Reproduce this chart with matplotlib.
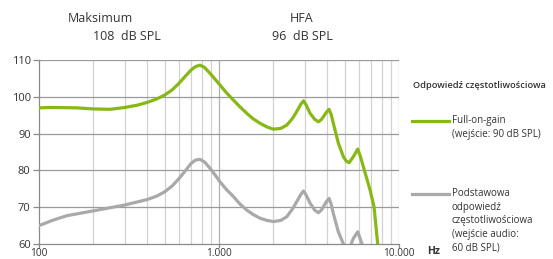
import matplotlib
matplotlib.use("Agg")
import matplotlib.pyplot as plt
from matplotlib.ticker import FixedLocator, NullFormatter

plt.rcParams["font.family"] = ["Open Sans", "DejaVu Sans"]

# dane
freq_full = [100, 115, 162, 200, 248, 300, 350, 400, 450, 500, 550, 600, 650,
             700, 740, 784, 830, 891, 950, 1013, 1100, 1202, 1300, 1427, 1550,
             1691, 1850, 2006, 2200, 2378, 2550, 2703, 2850, 2946, 3050, 3206,
             3400, 3566, 3700, 3802, 3950, 4086, 4200, 4316, 4604, 4910, 5100,
             5277, 5574, 5899, 6100, 6339, 6904, 7267, 7616, 7800]
db_full = [97.0, 97.1, 97.0, 96.7, 96.6, 97.1, 97.7, 98.5, 99.4, 100.5, 101.9,
           103.7, 105.6, 107.3, 108.2, 108.6, 108.0, 106.4, 104.8, 103.2, 101.1,
           99.1, 97.4, 95.5, 94.0, 92.8, 91.8, 91.2, 91.4, 92.3, 94.0, 96.0,
           98.0, 98.9, 97.8, 95.5, 93.9, 93.2, 93.8, 94.6, 95.8, 96.6, 95.2,
           92.8, 87.4, 83.7, 82.5, 82.1, 83.7, 85.8, 83.8, 81.0, 74.7, 70.1,
           60.0, 55.0]

freq_base = [100, 120, 143, 200, 300, 400, 450, 500, 550, 600, 650, 700, 740,
             784, 830, 891, 950, 1013, 1100, 1202, 1300, 1427, 1550, 1691, 1850,
             2006, 2200, 2378, 2550, 2703, 2850, 2946, 3050, 3206, 3400, 3566,
             3700, 3802, 3950, 4086, 4200, 4316, 4604, 4910, 5277, 5574, 5899,
             6233, 6500]
db_base = [65.0, 66.5, 67.7, 69.0, 70.6, 72.1, 73.0, 74.2, 75.8, 77.8, 79.9,
           81.9, 82.8, 83.0, 82.3, 80.6, 78.8, 76.9, 74.8, 72.9, 71.0, 69.2,
           68.0, 67.0, 66.4, 66.1, 66.4, 67.4, 69.4, 71.5, 73.5, 74.4, 73.3,
           71.1, 69.2, 68.5, 69.2, 70.1, 71.5, 72.4, 70.8, 68.3, 63.3, 60.0,
           58.5, 61.5, 63.3, 60.0, 56.0]

y_ticks = [60, 70, 80, 90, 100, 110]
x_ticks = [100, 1000, 10000]
x_labels = ["100", "1.000", "10.000"]
minor_x = [200, 300, 400, 500, 600, 700, 800, 900,
           2000, 3000, 4000, 5000, 6000, 7000, 8000, 9000]

green = "#88b816"
grey = "#a9a9a9"
text_col = "#333333"

fig = plt.figure(figsize=(5.53, 2.59), dpi=100)
W, H = 553, 259
ax = fig.add_axes([39 / W, 1 - 244 / H, 360 / W, 184 / H])

ax.set_xscale("log")
ax.set_xlim(100, 10000)
ax.set_ylim(60, 110)

for f in minor_x:
    ax.axvline(f, color="#d2d2d2", linewidth=0.9, zorder=1)
ax.axvline(1000, color="#b0b0b0", linewidth=0.9, zorder=1)
ax.axvline(10000, color="#b0b0b0", linewidth=0.9, zorder=1)
for v in y_ticks[1:]:
    ax.axhline(v, color="#9a9a9a", linewidth=0.9, zorder=1)

ax.plot(freq_base, db_base, color=grey, linewidth=2.3, zorder=3,
        solid_joinstyle="round")
ax.plot(freq_full, db_full, color=green, linewidth=2.3, zorder=4,
        solid_joinstyle="round")

ax.xaxis.set_major_locator(FixedLocator(x_ticks))
ax.set_xticklabels(x_labels)
ax.xaxis.set_minor_locator(FixedLocator(minor_x))
ax.xaxis.set_minor_formatter(NullFormatter())
ax.set_yticks(y_ticks)

for s in ["top", "right"]:
    ax.spines[s].set_visible(False)
for s in ["left", "bottom"]:
    ax.spines[s].set_color("#8a8a8a")
    ax.spines[s].set_linewidth(0.9)
ax.tick_params(axis="both", which="major", direction="out", length=4,
               width=0.9, color="#8a8a8a", labelsize=8, labelcolor=text_col)
ax.tick_params(axis="x", which="minor", length=0)
ax.tick_params(axis="x", which="major", length=3, pad=0, labelsize=7.3)
ax.tick_params(axis="y", pad=2)

def fx(px):
    return px / W

def fy(py):
    return 1 - py / H

fig.text(fx(100), fy(19), "Maksimum", ha="center", va="center",
         fontsize=9, color=text_col)
fig.text(fx(127), fy(37), "108  dB SPL", ha="center", va="center",
         fontsize=9, color=text_col)
fig.text(fx(302), fy(19), "HFA", ha="center", va="center",
         fontsize=9, color=text_col)
fig.text(fx(302), fy(37), "96  dB SPL", ha="center", va="center",
         fontsize=9, color=text_col)

fig.text(fx(427), fy(251), "Hz", ha="left", va="center", fontsize=7.5,
         fontweight="bold", color=text_col)

# legenda
fig.text(fx(413), fy(85), "Odpowiedź częstotliwościowa", ha="left",
         va="center", fontsize=6.7, fontweight="semibold", color=text_col)
fig.add_artist(plt.Line2D([fx(412), fx(449)], [fy(121), fy(121)],
                          color=green, linewidth=2.3))
fig.text(fx(452), fy(121), "Full-on-gain", ha="left", va="center",
         fontsize=7, color=text_col)
fig.text(fx(452), fy(134), "(wejście: 90 dB SPL)", ha="left", va="center",
         fontsize=7, color=text_col)
fig.add_artist(plt.Line2D([fx(412), fx(449)], [fy(194), fy(194)],
                          color=grey, linewidth=2.3))
leg_lines = ["Podstawowa", "odpowiedź", "częstotliwościowa",
             "(wejście audio:", "60 dB SPL)"]
for i, t in enumerate(leg_lines):
    fig.text(fx(452), fy(194 + 13.5 * i), t, ha="left", va="center",
             fontsize=7, color=text_col)

fig.savefig("out.png", dpi=100)
